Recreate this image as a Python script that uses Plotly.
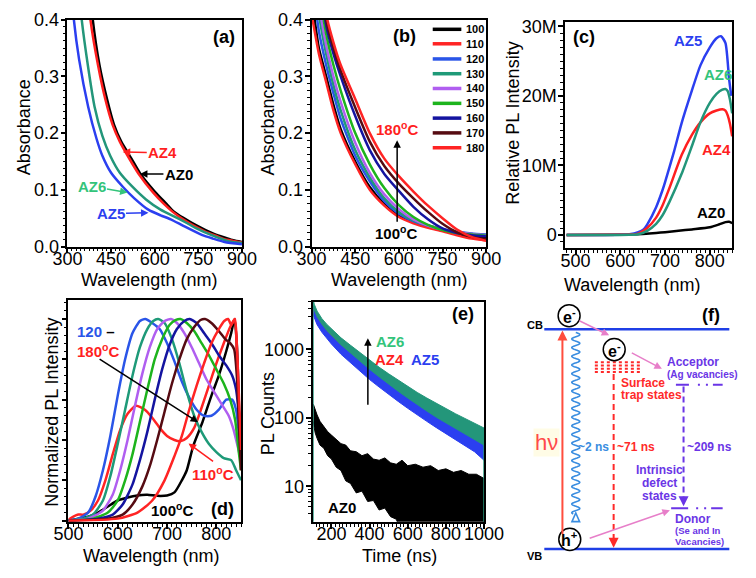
import numpy as np
import plotly.graph_objects as go

W, H = 756, 578
FONT = "Liberation Sans, Arial, sans-serif"


def px(x):
    return x / W


def py(y):
    return 1 - y / H


# ======================= DATA =======================
# (a) absorbance of AZ samples
a_az0_wl = [370, 387, 410, 436, 460, 485, 520, 551, 600, 637, 665, 700, 740, 775, 810, 840, 870, 900]
a_az0_abs = [0.50, 0.40, 0.32, 0.26, 0.215, 0.185, 0.155, 0.128, 0.097, 0.077, 0.062, 0.050, 0.038, 0.029, 0.021, 0.016, 0.011, 0.008]
a_az4_wl = [362, 379, 405, 430, 455, 480, 515, 545, 595, 630, 660, 700, 740, 775, 810, 840, 870, 900]
a_az4_abs = [0.50, 0.40, 0.32, 0.26, 0.215, 0.185, 0.153, 0.128, 0.095, 0.076, 0.062, 0.047, 0.035, 0.026, 0.019, 0.013, 0.010, 0.007]
a_az6_wl = [330, 349, 370, 393, 420, 447, 480, 524, 570, 620, 687, 740, 796, 850, 900]
a_az6_abs = [0.50, 0.40, 0.32, 0.247, 0.195, 0.16, 0.13, 0.105, 0.083, 0.065, 0.048, 0.033, 0.02, 0.01, 0.006]
a_az5_wl = [310, 322, 340, 371, 400, 420, 450, 491, 530, 578, 620, 655, 700, 764, 800, 840, 900]
a_az5_abs = [0.48, 0.40, 0.33, 0.247, 0.19, 0.16, 0.13, 0.105, 0.085, 0.065, 0.055, 0.048, 0.036, 0.02, 0.014, 0.008, 0.004]

# (b) absorbance vs synthesis temperature
b_temps = ["100", "110", "120", "130", "140", "150", "160", "170", "180"]
b_wl = [300, 325, 350, 375, 400, 450, 500, 550, 600, 650, 700, 750, 800, 850, 900]
b_abs_100 = [0.44, 0.35, 0.30, 0.25, 0.207, 0.15, 0.105, 0.075, 0.054, 0.043, 0.035, 0.030, 0.022, 0.017, 0.015]
b_abs_110 = [0.41, 0.34, 0.29, 0.24, 0.20, 0.145, 0.10, 0.072, 0.052, 0.041, 0.033, 0.027, 0.020, 0.014, 0.011]
b_abs_120 = [0.48, 0.38, 0.32, 0.27, 0.225, 0.16, 0.115, 0.08, 0.058, 0.045, 0.037, 0.031, 0.026, 0.023, 0.021]
b_abs_130 = [0.52, 0.41, 0.34, 0.285, 0.24, 0.17, 0.122, 0.085, 0.061, 0.046, 0.037, 0.030, 0.025, 0.022, 0.020]
b_abs_140 = [0.56, 0.43, 0.355, 0.30, 0.255, 0.183, 0.13, 0.092, 0.066, 0.048, 0.037, 0.030, 0.025, 0.022, 0.020]
b_abs_150 = [0.60, 0.46, 0.375, 0.32, 0.275, 0.20, 0.145, 0.103, 0.073, 0.052, 0.038, 0.029, 0.024, 0.021, 0.019]
b_abs_160 = [0.66, 0.50, 0.39, 0.34, 0.30, 0.23, 0.17, 0.128, 0.098, 0.07, 0.048, 0.032, 0.024, 0.020, 0.018]
b_abs_170 = [0.70, 0.52, 0.40, 0.35, 0.31, 0.245, 0.185, 0.142, 0.111, 0.085, 0.061, 0.040, 0.025, 0.017, 0.013]
b_abs_180 = [0.72, 0.53, 0.41, 0.36, 0.32, 0.26, 0.20, 0.155, 0.124, 0.097, 0.072, 0.050, 0.030, 0.017, 0.010]
b_abs = [b_abs_100, b_abs_110, b_abs_120, b_abs_130, b_abs_140, b_abs_150, b_abs_160, b_abs_170, b_abs_180]

# (c) relative PL intensity (millions)
c_az5_wl = [480, 600, 620, 640, 652, 660, 680, 694, 700, 720, 737, 760, 779, 800, 815, 825, 835, 843, 848]
c_az5_int = [0, 0.02, 0.1, 0.4, 0.8, 1.5, 4.0, 6.4, 7.6, 12.0, 16.1, 20.8, 24.4, 27.0, 28.3, 28.6, 27.6, 22.5, 20.0]
c_az6_wl = [480, 600, 620, 640, 660, 680, 694, 710, 737, 760, 779, 800, 815, 828, 835, 840, 845, 850]
c_az6_int = [0, 0.01, 0.03, 0.1, 0.6, 1.6, 2.8, 4.8, 8.8, 12.8, 16.2, 19.0, 20.3, 20.9, 21.0, 20.7, 19.5, 17.5]
c_az4_wl = [480, 600, 620, 640, 660, 680, 694, 710, 737, 760, 779, 800, 815, 828, 835, 840, 845, 850]
c_az4_int = [0, 0.02, 0.06, 0.2, 1.0, 2.5, 4.2, 6.8, 11.5, 14.4, 16.2, 17.5, 17.9, 18.1, 17.9, 17.2, 16.0, 14.2]
c_az0_wl = [480, 600, 620, 650, 680, 700, 730, 760, 800, 820, 835, 843, 850]
c_az0_int = [0, 0.02, 0.05, 0.15, 0.3, 0.4, 0.6, 0.8, 1.1, 1.5, 1.85, 1.9, 1.7]

# (d) normalized PL vs temperature
d_wl_100 = [500, 520, 540, 560, 580, 600, 620, 640, 660, 680, 700, 715, 730, 740, 753, 772, 790, 805, 820, 830, 837, 842, 846, 850]
d_pl_100 = [0, 0.01, 0.02, 0.04, 0.07, 0.10, 0.115, 0.125, 0.128, 0.123, 0.125, 0.14, 0.2, 0.25, 0.37, 0.49, 0.62, 0.72, 0.84, 0.93, 1.0, 0.85, 0.55, 0.3]
d_wl_110 = [500, 510, 520, 530, 545, 560, 575, 590, 605, 620, 637, 655, 670, 685, 700, 715, 727, 740, 755, 770, 785, 800, 815, 828, 837, 842, 846, 850]
d_pl_110 = [0.005, 0.02, 0.03, 0.03, 0.05, 0.1, 0.2, 0.33, 0.45, 0.53, 0.57, 0.55, 0.51, 0.46, 0.42, 0.40, 0.394, 0.41, 0.46, 0.56, 0.67, 0.78, 0.88, 0.96, 1.0, 0.8, 0.5, 0.25]
d_wl_120 = [500, 520, 540, 555, 570, 585, 600, 615, 630, 645, 656, 670, 685, 700, 715, 730, 745, 760, 775, 790, 805, 820, 832, 840, 845, 850]
d_pl_120 = [0, 0.01, 0.04, 0.12, 0.25, 0.42, 0.62, 0.8, 0.93, 0.99, 1.0, 0.98, 0.95, 0.88, 0.79, 0.69, 0.61, 0.55, 0.52, 0.52, 0.55, 0.6, 0.6, 0.55, 0.45, 0.35]
d_wl_130 = [500, 530, 550, 570, 585, 600, 615, 630, 645, 660, 672, 682, 695, 710, 725, 740, 755, 770, 785, 800, 815, 830, 840, 850]
d_pl_130 = [0, 0.01, 0.03, 0.1, 0.22, 0.38, 0.55, 0.72, 0.86, 0.95, 0.99, 1.0, 0.98, 0.9, 0.78, 0.64, 0.52, 0.44, 0.38, 0.34, 0.31, 0.3, 0.25, 0.2]
d_wl_140 = [500, 540, 570, 590, 605, 620, 635, 650, 665, 680, 695, 708, 720, 735, 750, 765, 780, 795, 810, 825, 835, 845, 850]
d_pl_140 = [0, 0.01, 0.05, 0.13, 0.25, 0.4, 0.57, 0.73, 0.86, 0.95, 0.99, 1.0, 0.98, 0.93, 0.86, 0.78, 0.7, 0.64, 0.58, 0.52, 0.45, 0.35, 0.3]
d_wl_150 = [500, 550, 580, 600, 615, 630, 645, 660, 675, 690, 705, 718, 727, 740, 755, 770, 785, 800, 815, 828, 838, 845, 850]
d_pl_150 = [0, 0.01, 0.04, 0.1, 0.2, 0.33, 0.49, 0.65, 0.8, 0.9, 0.97, 0.995, 1.0, 0.98, 0.94, 0.88, 0.82, 0.75, 0.68, 0.6, 0.5, 0.35, 0.25]
d_wl_160 = [500, 560, 590, 610, 630, 645, 660, 675, 690, 705, 720, 735, 746, 760, 775, 790, 805, 820, 832, 840, 845, 850]
d_pl_160 = [0, 0.01, 0.03, 0.08, 0.18, 0.3, 0.44, 0.6, 0.75, 0.87, 0.95, 0.99, 1.0, 0.98, 0.93, 0.88, 0.82, 0.77, 0.72, 0.65, 0.55, 0.45]
d_wl_170 = [500, 580, 610, 630, 650, 665, 680, 695, 710, 725, 740, 755, 768, 777, 790, 805, 818, 828, 836, 842, 846, 850]
d_pl_170 = [0, 0.01, 0.03, 0.08, 0.17, 0.27, 0.4, 0.54, 0.68, 0.8, 0.9, 0.96, 0.995, 1.0, 0.98, 0.94, 0.9, 0.88, 0.85, 0.7, 0.45, 0.25]
d_wl_180 = [500, 600, 640, 670, 695, 715, 730, 745, 760, 775, 790, 805, 816, 824, 830, 835, 838, 842, 846, 850]
d_pl_180 = [0, 0.01, 0.04, 0.1, 0.2, 0.32, 0.42, 0.55, 0.67, 0.78, 0.88, 0.95, 0.99, 1.0, 0.97, 0.99, 1.0, 0.85, 0.6, 0.35]
d_wl = [d_wl_100, d_wl_110, d_wl_120, d_wl_130, d_wl_140, d_wl_150, d_wl_160, d_wl_170, d_wl_180]
d_pl = [d_pl_100, d_pl_110, d_pl_120, d_pl_130, d_pl_140, d_pl_150, d_pl_160, d_pl_170, d_pl_180]

# (e) PL decay envelopes (counts)
e_t = [105, 110, 125, 150, 175, 200, 250, 300, 350, 400, 450, 500, 550, 600, 650, 700, 750, 800, 850, 900, 950, 1000]
e_az6_hi = [5250, 4570, 3630, 2820, 2340, 2000, 1480, 1150, 890, 690, 550, 440, 355, 290, 235, 195, 162, 135, 115, 98, 83, 71]
e_az6_lo = [4400, 3800, 3000, 2340, 1900, 1620, 1170, 890, 676, 513, 398, 309, 245, 195, 155, 126, 102, 83, 69, 58, 48, 40]
e_az4_hi = [4300, 3750, 2980, 2380, 1930, 1640, 1200, 930, 720, 560, 435, 345, 275, 222, 180, 147, 120, 99, 82, 69, 58, 50]
e_az4_lo = [3350, 3000, 2430, 1890, 1540, 1270, 900, 670, 510, 385, 300, 232, 185, 147, 117, 95, 77, 63, 51, 42, 34, 26]
e_az5_hi = [4170, 3630, 2880, 2290, 1860, 1580, 1150, 890, 692, 537, 417, 331, 263, 214, 174, 141, 115, 95, 79, 66, 56, 48]
e_az5_lo = [3160, 2820, 2290, 1780, 1450, 1200, 851, 631, 479, 363, 282, 219, 174, 138, 110, 89, 72, 59, 48, 39, 32, 24]
e_az0_t = [105, 110, 115, 125, 140, 160, 180, 200, 225, 250, 275, 300, 330, 360, 390, 420, 450, 480, 510, 540, 570, 600, 640, 680, 720, 760, 800, 840, 880, 920, 960, 1000]
e_az0_hi = [158, 141, 126, 110, 89, 76, 63, 56, 48, 42, 40, 33, 32, 28, 30, 25, 24, 26, 22, 21, 24, 20, 21, 19, 20, 17, 18, 16, 17, 15, 15, 13]
e_az0_lo = [89, 71, 60, 50, 40, 36, 28, 25, 19, 17, 12, 11, 8, 8.5, 6, 6.2, 4.5, 4.8, 3.6, 3.3, 2, 2, 2, 2, 2, 2, 2, 2, 2, 2, 2, 2]

# ======================= STYLE =======================
C_BLACK = "#000000"
C_RED = "#ff1f1f"
C_BLUE = "#2b3ff0"
C_TEAL = "#23967a"
C_MINT = "#33c47a"
d_colors = ["#000000", "#ff2424", "#2a55e8", "#1e9a78", "#b05ef0", "#1db41d", "#1414a0", "#560b12", "#ff2424"]

fig = go.Figure()


def add_line(x, y, color, xa, ya, width=2.5, shape="spline"):
    fig.add_trace(go.Scatter(x=x, y=y, mode="lines", xaxis=xa, yaxis=ya,
                             line=dict(color=color, width=width, shape=shape, smoothing=0.6),
                             showlegend=False, hoverinfo="skip"))


def add_band(t_hi, hi, t_lo, lo, color, xa, ya):
    fig.add_trace(go.Scatter(x=list(t_hi) + list(t_lo)[::-1], y=list(hi) + list(lo)[::-1],
                             mode="lines", fill="toself", fillcolor=color,
                             line=dict(color=color, width=1), xaxis=xa, yaxis=ya,
                             showlegend=False, hoverinfo="skip"))


# (a)
add_line(a_az0_wl, a_az0_abs, C_BLACK, "x", "y")
add_line(a_az4_wl, a_az4_abs, C_RED, "x", "y")
add_line(a_az6_wl, a_az6_abs, C_TEAL, "x", "y")
add_line(a_az5_wl, a_az5_abs, C_BLUE, "x", "y")

# (b)
for vals, col in zip(b_abs, d_colors):
    add_line(b_wl, vals, col, "x2", "y2")

# (c)
add_line(c_az0_wl, [v * 1e6 for v in c_az0_int], C_BLACK, "x3", "y3")
add_line(c_az5_wl, [v * 1e6 for v in c_az5_int], C_BLUE, "x3", "y3")
add_line(c_az4_wl, [v * 1e6 for v in c_az4_int], C_RED, "x3", "y3")
add_line(c_az6_wl, [v * 1e6 for v in c_az6_int], C_TEAL, "x3", "y3")

# (d)
for xs, ys, col in zip(d_wl, d_pl, d_colors):
    add_line(xs, ys, col, "x4", "y4")

# (e)
add_band(e_az0_t, e_az0_hi, e_az0_t, e_az0_lo, C_BLACK, "x5", "y5")
add_band(e_t, e_az4_hi, e_t, e_az4_lo, C_RED, "x5", "y5")
add_band(e_t, e_az5_hi, e_t, e_az5_lo, C_BLUE, "x5", "y5")
add_band(e_t, e_az6_hi, e_t, e_az6_lo, C_TEAL, "x5", "y5")
add_line([103, 103], [2, 5500], C_TEAL, "x5", "y5", width=1.5, shape="linear")
add_line([1000, 1000], [2, 60], C_TEAL, "x5", "y5", width=1.5, shape="linear")


# ======================= AXES =======================
def axis(p0, p1, rng, anchor, tickvals, ticktext, minor, horizontal=True, log=False, labels=True):
    dom = [px(p0), px(p1)] if horizontal else [py(p1), py(p0)]
    d = dict(domain=dom, range=rng, anchor=anchor, showline=True, linecolor="black",
             linewidth=1.8, mirror=True, ticks="outside", ticklen=5, tickwidth=1.5,
             tickcolor="black", showgrid=False, zeroline=False, fixedrange=True,
             tickfont=dict(family=FONT, size=18, color="black"), tickmode="array",
             tickvals=tickvals, ticktext=ticktext, showticklabels=labels,
             ticklabelstandoff=-10 if horizontal else -2)
    if log:
        d["type"] = "log"
    m = dict(ticks="outside", ticklen=3, tickwidth=1, tickcolor="black", showgrid=False)
    m.update(minor)
    d["minor"] = m
    return d


wl_a = [300, 450, 600, 750, 900]
abs_ticks = [0, 0.1, 0.2, 0.3, 0.4]
abs_text = ["0.0", "0.1", "0.2", "0.3", "0.4"]
log_minor = [m * 10 ** k for k in range(0, 4) for m in range(2, 10)]

fig.update_layout(
    width=W, height=H, margin=dict(l=0, r=0, t=0, b=0),
    paper_bgcolor="white", plot_bgcolor="white", showlegend=False,
    font=dict(family=FONT, color="black"),
    xaxis=axis(55, 238, [300, 900], "y", wl_a, [str(v) for v in wl_a],
               dict(tickmode="linear", tick0=300, dtick=15)),
    yaxis=axis(10, 245, [0, 0.4], "x", abs_ticks, abs_text,
               dict(tickmode="linear", tick0=0, dtick=0.0125), horizontal=False),
    xaxis2=axis(311, 494, [300, 900], "y2", wl_a, [str(v) for v in wl_a],
                dict(tickmode="linear", tick0=300, dtick=15)),
    yaxis2=axis(10, 245, [0, 0.4], "x2", abs_ticks, abs_text,
                dict(tickmode="linear", tick0=0, dtick=0.0125), horizontal=False),
    xaxis3=axis(577, 752, [477, 850], "y3", [500, 600, 700, 800], ["500", "600", "700", "800"],
                dict(tickmode="linear", tick0=500, dtick=10)),
    yaxis3=axis(12, 247, [-1.94e6, 30.7e6], "x3", [0, 1e7, 2e7, 3e7], ["0", "10M", "20M", "30M"],
                dict(tickmode="linear", tick0=0, dtick=1e6), horizontal=False),
    xaxis4=axis(56, 237, [500, 850], "y4", [500, 600, 700, 800], ["500", "600", "700", "800"],
                dict(tickmode="linear", tick0=500, dtick=10)),
    yaxis4=axis(300, 530, [-0.005, 1.096], "x4", [0, 0.2, 0.4, 0.6, 0.8, 1.0], None,
                dict(tickmode="linear", tick0=0, dtick=0.04), horizontal=False, labels=False),
    xaxis5=axis(312, 492, [101, 1001], "y5", [200, 400, 600, 800, 1000],
                ["200", "400", "600", "800", "1000"], dict(tickmode="linear", tick0=100, dtick=20)),
    yaxis5=axis(302, 530, [0.483, 3.70], "x5", [10, 100, 1000], ["10", "100", "1000"],
                dict(tickmode="array", tickvals=log_minor), horizontal=False, log=True),
)

# ======================= ANNOTATIONS / SHAPES =======================
annots = []
shapes = []


def txt(x, y, s, size=15, color="black", bold=True, xanchor="center", yanchor="middle", angle=0, bg=None):
    a = dict(x=px(x), y=py(y), xref="paper", yref="paper", text=f"<b>{s}</b>" if bold else s,
             showarrow=False, font=dict(family=FONT, size=size, color=color),
             xanchor=xanchor, yanchor=yanchor, textangle=angle)
    if bg:
        a["bgcolor"] = bg
    annots.append(a)


def arrow(x0, y0, x1, y1, color="black", width=1.5, head=2, size=1.0):
    annots.append(dict(x=px(x1), y=py(y1), xref="paper", yref="paper", ax=x0 - x1, ay=y0 - y1,
                       axref="pixel", ayref="pixel", text="", showarrow=True, arrowhead=head,
                       arrowsize=size, arrowwidth=width, arrowcolor=color, standoff=0, startstandoff=0))


def label_arrow(tx, ty, hx, hy, s, color, size=15):
    annots.append(dict(x=px(hx), y=py(hy), xref="paper", yref="paper", ax=tx - hx, ay=ty - hy,
                       axref="pixel", ayref="pixel", text=f"<b>{s}</b>", showarrow=True,
                       arrowhead=2, arrowsize=1, arrowwidth=1.5, arrowcolor=color,
                       font=dict(family=FONT, size=size, color=color), standoff=0))


def seg(x0, y0, x1, y1, color, width=2, dash="solid"):
    shapes.append(dict(type="line", xref="paper", yref="paper", x0=px(x0), y0=py(y0),
                       x1=px(x1), y1=py(y1), line=dict(color=color, width=width, dash=dash)))


# axis titles
for (x, y, s, ang) in [(9, 122, "Absorbance", -90), (265, 122, "Absorbance", -90),
                       (522, 117, "Relative PL Intensity", -90),
                       (38, 417, "Normalized PL Intensity", -90), (265, 418, "PL Counts", -90),
                       (141, 280, "Wavelength (nm)", 0), (403, 280, "Wavelength (nm)", 0),
                       (647, 285, "Wavelength (nm)", 0), (143, 566, "Wavelength (nm)", 0),
                       (403, 566, "Time (ns)", 0)]:
    txt(x, y, s, size=18, bold=False, angle=ang)

# (a)
txt(219, 28, "(a)", size=18)
label_arrow(153, 148, 113, 147, "AZ4", C_RED)
label_arrow(170, 170, 131, 170, "AZ0", C_BLACK)
label_arrow(82, 183, 118, 189, "AZ6", C_MINT)
label_arrow(102, 211, 140, 210, "AZ5", C_BLUE)

# (b)
txt(408, 27, "(b)", size=18)
txt(401, 123, "180<sup>o</sup>C", color=C_RED)
txt(400, 230, "100<sup>o</sup>C")
arrow(400.7, 218, 400.7, 135)
leg_rows = [20, 35, 50.7, 66, 81.3, 96.7, 112, 127.3, 142.7]
for yy, name, col in zip(leg_rows, b_temps, d_colors):
    seg(438, yy, 468, yy, col, width=3.5)
    txt(471, yy, name, size=11, xanchor="left")

# (c)
txt(597, 28, "(c)", size=18)
txt(706, 32, "AZ5", color=C_BLUE)
txt(737, 67, "AZ6", color=C_MINT)
txt(736, 145, "AZ4", color=C_RED)
txt(730, 210, "AZ0")

# (d)
txt(63, 333, "<span style='color:#2a55e8'>120</span> –", xanchor="left")
txt(63, 353, "180<sup>o</sup>C", color=C_RED, xanchor="left")
arrow(92, 363, 192, 427)
txt(208, 480, "110<sup>o</sup>C", color=C_RED)
arrow(208, 468, 182, 449, color=C_RED)
txt(165, 517, "100<sup>o</sup>C")
txt(218, 517, "(d)", size=18)

# (e)
txt(470, 315, "(e)", size=18)
txt(393, 343, "AZ6", color=C_MINT)
txt(393, 362, "AZ4", color=C_RED)
txt(430, 362, "AZ5", color=C_BLUE)
txt(343, 515, "AZ0")
arrow(370, 408, 370, 340)

# (f) energy diagram
BAND = "#1f3fe6"
PURPLE = "#6a35e6"
PINK = "#e77fc9"
WAVE = "#3a8de0"
RED_F = "#ff2a2a"
seg(555, 330.7, 749, 330.7, BAND, width=2.5)
seg(555, 558.3, 749, 558.3, BAND, width=2.5)
txt(545, 326, "CB", size=11)
txt(545, 566, "VB", size=11)
txt(730, 316, "(f)", size=18)

# excitation arrow
arrow(574, 537, 574, 332, color="#ff4d3d", width=2)
txt(557, 448, "hν", size=22, color="#ff4a4a", bold=False, bg="rgba(255,250,210,0.55)")

# radiative wavy line
wy = np.linspace(334, 522, 500)
wx = 588 + 4.2 * np.sin((wy - 334) / 9.0 * 2 * np.pi)
path = "M " + " L ".join(f"{px(a):.5f},{py(b):.5f}" for a, b in zip(wx, wy))
shapes.append(dict(type="path", xref="paper", yref="paper", path=path, line=dict(color=WAVE, width=1.6)))
tri = f"M {px(584):.5f},{py(530):.5f} L {px(588):.5f},{py(521):.5f} L {px(592):.5f},{py(530):.5f} Z"
shapes.append(dict(type="path", xref="paper", yref="paper", path=tri, line=dict(color=WAVE, width=1.6),
                   fillcolor="white"))
txt(607, 453, "~2 ns", size=12, color=WAVE)

# surface trap states
for yy in [365, 368.3, 371.7, 375]:
    seg(608, yy, 657, yy, RED_F, width=2, dash="dot")
seg(627.7, 377, 627.7, 549, RED_F, width=2, dash="6px,4px")
arrow(627.7, 549, 627.7, 557, color=RED_F, width=2)
txt(633, 386, "Surface", size=12, color=RED_F, xanchor="left")
txt(633, 399.3, "trap states", size=12, color=RED_F, xanchor="left")
txt(651, 453, "~71 ns", size=12, color=RED_F)

# acceptor / donor levels
seg(693, 388.3, 742, 388.3, PURPLE, width=2, dash="13px,9px,2px,6px,2px,5px,12px")
seg(688, 516, 742, 516, PURPLE, width=2, dash="17px,8px,2px,6px,2px,5px,14px")
seg(701, 390, 701, 506, PURPLE, width=2, dash="6px,4px")
arrow(701, 506, 701, 514, color=PURPLE, width=2)
txt(682, 365, "Acceptor", size=12, color=PURPLE, xanchor="left")
txt(682, 377.5, "(Ag vacancies)", size=10, color=PURPLE, xanchor="left")
txt(728, 453, "~209 ns", size=12, color=PURPLE)
txt(676, 476, "Intrinsic", size=12, color=PURPLE)
txt(676, 490, "defect", size=12, color=PURPLE)
txt(676, 503.5, "states", size=12, color=PURPLE)
txt(690, 527.5, "Donor", size=12, color=PURPLE, xanchor="left")
txt(690, 539, "(Se and In", size=9.5, color=PURPLE, xanchor="left")
txt(690, 550.7, "Vacancies)", size=9.5, color=PURPLE, xanchor="left")

# pink transfer arrows
arrow(591.7, 321.7, 623, 337, color=PINK, width=1.5)
arrow(646.7, 355, 678.3, 371.7, color=PINK, width=1.5)
arrow(605, 546.7, 686.7, 518.3, color=PINK, width=1.5)

# carriers (circles)
for cx, cy, s in [(581, 316.7, "e<sup>-</sup>"), (628.3, 351.7, "e<sup>-</sup>"), (581.7, 548.3, "h<sup>+</sup>")]:
    r = 11.5
    shapes.append(dict(type="circle", xref="paper", yref="paper", x0=px(cx - r), x1=px(cx + r),
                       y0=py(cy + r), y1=py(cy - r), fillcolor="white", line=dict(color="black", width=1.5)))
    txt(cx, cy, s, size=16)

fig.update_layout(annotations=annots, shapes=shapes)
fig.write_html("out.html")
